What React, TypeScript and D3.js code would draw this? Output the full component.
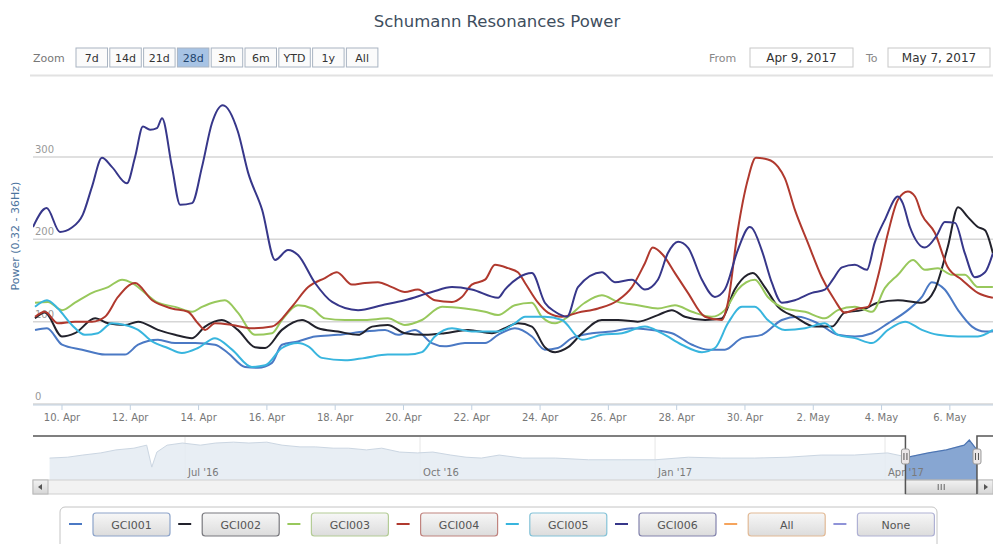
import React from "react";
import * as d3 from "d3";

const W = 993;
const H = 544;

const seriesNames = ["GCI001", "GCI002", "GCI003", "GCI004", "GCI005", "GCI006"];
const seriesColors = ["#4b79c4", "#22222c", "#98c85c", "#b0392e", "#38b5de", "#37378a"];

// [days since 9 Apr 2017 00:00 UTC, power]
const gci001: [number, number][] = [
  [0.21, 90], [0.56, 92], [1.0, 72], [1.59, 66], [2.26, 60], [2.84, 60], [3.23, 72], [3.81, 78],
  [4.31, 74], [4.9, 74], [5.48, 72], [5.86, 62], [6.36, 45], [6.74, 44], [7.15, 50], [7.44, 72],
  [7.91, 76], [8.41, 82], [9.08, 84], [9.87, 88], [10.46, 90], [10.84, 84], [11.34, 90], [11.83, 74],
  [12.21, 70], [12.8, 74], [13.39, 74], [13.77, 84], [14.26, 92], [14.76, 82], [15.14, 66], [15.52, 68],
  [15.93, 80], [16.52, 86], [17.1, 88], [17.69, 92], [18.28, 90], [18.86, 86], [19.45, 72], [19.92, 66],
  [20.41, 66], [20.91, 80], [21.49, 84], [22.08, 102], [22.55, 106], [23.14, 98], [23.72, 84], [24.22, 82],
  [24.72, 86], [25.19, 98], [25.77, 114], [26.18, 130], [26.47, 148], [26.85, 139], [27.24, 114], [27.65, 94],
  [28.03, 88], [28.26, 88],
];
const gci002: [number, number][] = [
  [0.21, 104], [0.5, 111], [1.0, 82], [1.38, 86], [1.97, 104], [2.35, 98], [2.84, 96], [3.23, 100],
  [3.81, 90], [4.31, 84], [4.81, 80], [5.19, 94], [5.68, 102], [6.15, 90], [6.65, 69], [6.95, 68],
  [7.44, 90], [8.03, 102], [8.5, 92], [9.08, 88], [9.67, 84], [10.08, 94], [10.54, 96], [11.04, 86],
  [11.63, 84], [12.21, 86], [12.89, 90], [13.59, 86], [13.97, 92], [14.35, 98], [14.76, 94], [15.14, 69],
  [15.44, 63], [15.82, 69], [16.23, 86], [16.81, 102], [17.28, 102], [17.86, 100], [18.45, 108], [18.86, 114],
  [19.24, 106], [19.83, 102], [20.32, 104], [20.7, 139], [21.08, 157], [21.23, 159], [21.58, 142], [21.97, 118],
  [22.46, 106], [23.05, 94], [23.55, 94], [23.92, 111], [24.42, 114], [24.89, 123], [25.48, 126], [26.18, 123],
  [26.56, 139], [26.94, 191], [27.24, 239], [27.53, 227], [27.82, 215], [28.03, 211], [28.26, 183],
];
const gci003: [number, number][] = [
  [0.21, 123], [0.59, 124], [1.0, 114], [1.38, 123], [1.88, 135], [2.35, 142], [2.76, 151], [3.05, 147],
  [3.43, 135], [3.81, 123], [4.31, 118], [4.81, 112], [5.1, 118], [5.48, 124], [5.77, 126], [6.15, 111],
  [6.65, 84], [7.15, 86], [7.44, 102], [7.91, 120], [8.32, 116], [8.7, 104], [9.29, 102], [9.87, 102],
  [10.54, 104], [11.04, 96], [11.54, 102], [12.13, 118], [12.8, 116], [13.39, 112], [13.77, 108], [14.26, 120],
  [14.76, 123], [15.05, 106], [15.44, 98], [15.82, 106], [16.31, 123], [16.81, 132], [17.28, 124], [17.86, 120],
  [18.45, 116], [18.95, 120], [19.45, 112], [20.03, 106], [20.41, 114], [20.79, 139], [21.29, 151], [21.67, 130],
  [22.17, 116], [22.76, 112], [23.34, 104], [23.72, 114], [24.22, 118], [24.72, 112], [25.1, 141], [25.48, 157],
  [25.92, 175], [26.27, 163], [26.65, 165], [27.06, 157], [27.44, 157], [27.82, 142], [28.26, 142],
];
const gci004: [number, number][] = [
  [0.21, 106], [0.5, 112], [0.88, 98], [1.38, 100], [1.88, 100], [2.26, 106], [2.64, 130], [3.14, 147],
  [3.64, 126], [4.22, 116], [4.69, 112], [4.98, 98], [5.19, 90], [5.48, 98], [5.98, 96], [6.56, 92],
  [7.15, 94], [7.73, 118], [8.21, 142], [8.7, 153], [9.05, 160], [9.49, 145], [9.87, 147], [10.25, 148],
  [10.66, 142], [11.04, 136], [11.42, 139], [11.92, 126], [12.42, 124], [12.71, 130], [13.0, 145], [13.39, 151],
  [13.68, 169], [14.06, 165], [14.35, 160], [14.56, 147], [14.94, 123], [15.23, 111], [15.64, 106], [16.11, 111],
  [16.7, 116], [17.28, 126], [17.69, 142], [18.07, 171], [18.3, 190], [18.6, 181], [18.95, 159], [19.33, 135],
  [19.83, 106], [20.32, 102], [20.5, 123], [20.79, 211], [21.08, 272], [21.32, 299], [21.67, 297], [21.97, 288],
  [22.17, 274], [22.46, 236], [22.84, 196], [23.25, 154], [23.63, 126], [23.92, 111], [24.31, 116], [24.6, 118],
  [24.89, 154], [25.19, 208], [25.48, 248], [25.77, 258], [25.98, 252], [26.18, 230], [26.56, 208], [26.94, 166],
  [27.35, 151], [27.82, 135], [28.26, 129],
];
const gci005: [number, number][] = [
  [0.21, 118], [0.56, 126], [0.88, 116], [1.29, 96], [1.67, 84], [2.05, 86], [2.46, 98], [2.84, 96],
  [3.23, 90], [3.64, 76], [4.1, 68], [4.51, 62], [4.98, 68], [5.48, 80], [5.98, 66], [6.56, 45],
  [6.95, 47], [7.44, 68], [7.91, 74], [8.21, 70], [8.61, 56], [9.29, 53], [9.87, 56], [10.54, 60],
  [11.13, 60], [11.54, 63], [11.92, 82], [12.42, 92], [13.0, 88], [13.77, 88], [14.26, 98], [14.56, 106],
  [15.14, 106], [15.64, 102], [16.23, 78], [16.81, 84], [17.4, 86], [18.07, 94], [18.56, 86], [19.15, 72],
  [19.74, 63], [20.12, 68], [20.5, 98], [20.91, 118], [21.29, 118], [21.67, 102], [22.17, 90], [22.76, 92],
  [23.34, 98], [23.72, 84], [24.22, 80], [24.72, 74], [25.19, 90], [25.69, 100], [26.18, 90], [26.65, 84],
  [27.24, 82], [27.82, 82], [28.26, 90],
];
const gci006: [number, number][] = [
  [0.15, 215], [0.55, 238], [0.94, 209], [1.28, 214], [1.61, 230], [1.88, 264], [2.17, 299], [2.46, 288],
  [2.9, 268], [3.14, 300], [3.37, 337], [3.58, 333], [3.78, 335], [3.93, 347], [4.22, 288], [4.46, 242],
  [4.81, 244], [5.1, 288], [5.39, 341], [5.71, 363], [6.15, 331], [6.45, 281], [6.86, 236], [7.24, 175],
  [7.62, 187], [7.91, 181], [8.41, 147], [8.91, 124], [9.67, 114], [10.37, 120], [11.04, 126], [11.83, 136],
  [12.42, 142], [13.0, 139], [13.77, 129], [13.97, 139], [14.35, 153], [14.76, 159], [15.14, 123], [15.44, 112],
  [15.79, 106], [16.11, 142], [16.81, 160], [17.19, 148], [17.69, 151], [18.07, 139], [18.45, 151], [18.74, 183],
  [19.04, 197], [19.33, 190], [19.74, 151], [20.12, 130], [20.41, 139], [20.79, 187], [21.14, 215], [21.2, 214],
  [21.49, 187], [21.79, 147], [22.08, 123], [22.46, 126], [22.96, 135], [23.34, 139], [23.57, 151], [23.84, 166],
  [24.22, 169], [24.57, 163], [24.8, 196], [25.1, 224], [25.48, 252], [25.62, 244], [25.83, 215], [26.27, 190],
  [26.62, 205], [26.85, 221], [27.15, 220], [27.44, 183], [27.73, 154], [28.03, 160], [28.26, 183],
];
const seriesData = [gci001, gci002, gci003, gci004, gci005, gci006];

const yTicks = [0, 100, 200, 300];
const xTickDates = [
  "2017-04-10", "2017-04-12", "2017-04-14", "2017-04-16", "2017-04-18", "2017-04-20", "2017-04-22",
  "2017-04-24", "2017-04-26", "2017-04-28", "2017-04-30", "2017-05-02", "2017-05-04", "2017-05-06",
];
const navTickDates = ["2016-07-01", "2016-10-01", "2017-01-01", "2017-04-01"];
const navData: [string, number][] = [
  ["2016-05-09", 51], ["2016-05-16", 53], ["2016-05-22", 58], ["2016-05-29", 63], ["2016-06-04", 70],
  ["2016-06-11", 74], ["2016-06-16", 81], ["2016-06-18", 30], ["2016-06-20", 65], ["2016-06-24", 81],
  ["2016-06-30", 86], ["2016-07-07", 81], ["2016-07-13", 86], ["2016-07-20", 88], ["2016-07-26", 86],
  ["2016-08-02", 88], ["2016-08-08", 81], ["2016-08-15", 77], ["2016-08-21", 77], ["2016-08-28", 74],
  ["2016-09-03", 74], ["2016-09-10", 70], ["2016-09-16", 74], ["2016-09-23", 65], ["2016-09-30", 63],
  ["2016-10-06", 65], ["2016-10-13", 58], ["2016-10-19", 53], ["2016-10-25", 51], ["2016-11-01", 58],
  ["2016-11-10", 51], ["2016-11-23", 51], ["2016-12-06", 47], ["2016-12-19", 47], ["2017-01-01", 47],
  ["2017-01-14", 53], ["2017-01-27", 51], ["2017-02-09", 51], ["2017-02-22", 53], ["2017-03-07", 58],
  ["2017-03-20", 58], ["2017-04-02", 63], ["2017-04-10", 53], ["2017-04-18", 63], ["2017-04-25", 70],
  ["2017-05-02", 81], ["2017-05-04", 93], ["2017-05-07", 70],
];

const zoomButtons = ["7d", "14d", "21d", "28d", "3m", "6m", "YTD", "1y", "All"];
const selectedZoom = "28d";
const rangeFrom = "Apr 9, 2017";
const rangeTo = "May 7, 2017";
const rangeFromDate = "2017-04-09";
const rangeToDate = "2017-05-07";
const legendExtraNames = ["All", "None"];
const legendExtraColors = ["#f5a45d", "#8f93d8"];

const FONT = "'DejaVu Sans', Verdana, sans-serif";
const day0 = Date.UTC(2017, 3, 9);
const parse = (s: string) => new Date(s + "T00:00:00Z");

export default function App() {
  const plotL = 33, plotR = 993, plotT = 80, plotB = 405;
  const x = d3.scaleUtc().domain([parse(rangeFromDate), parse(rangeToDate)]).range([27.85, 984]);
  const y = d3.scaleLinear().domain([0, 300]).range([404, 157]);
  const line = d3
    .line<[number, number]>()
    .x((d) => x(new Date(day0 + d[0] * 864e5)))
    .y((d) => y(d[1]))
    .curve(d3.curveMonotoneX);

  const navT = 437, navB = 480;
  const navX = d3.scaleUtc().domain([parse("2016-07-01"), parse("2017-04-01")]).range([185, 885]);
  const navY = d3.scaleLinear().domain([0, 100]).range([navB, navT]);
  const navArea = d3
    .area<[string, number]>()
    .x((d) => navX(parse(d[0])))
    .y0(navB)
    .y1((d) => navY(d[1]));
  const navLine = d3
    .line<[string, number]>()
    .x((d) => navX(parse(d[0])))
    .y((d) => navY(d[1]));
  const selL = navX(parse(rangeFromDate));
  const selR = navX(parse(rangeToDate));
  const fmtX = d3.utcFormat("%-d. %b");
  const fmtNav = d3.utcFormat("%b '%y");

  const legendNames = [...seriesNames, ...legendExtraNames];
  const legendColors = [...seriesColors, ...legendExtraColors];

  const scrollT = 480, scrollB = 494;

  return (
    <div style={{ position: "absolute", left: 0, top: 0 }}>
      <svg width={W} height={H} style={{ display: "block", fontFamily: FONT }}>
        <defs>
          <clipPath id="plotClip">
            <rect x={plotL} y={plotT} width={plotR - plotL} height={plotB - plotT} />
          </clipPath>
          <clipPath id="selClip">
            <rect x={selL} y={navT - 2} width={selR - selL} height={navB - navT + 2} />
          </clipPath>
          <linearGradient id="btnGrad" x1="0" y1="0" x2="0" y2="1">
            <stop offset="0" stopColor="#f7f7f7" />
            <stop offset="1" stopColor="#dcdcdc" />
          </linearGradient>
          <linearGradient id="thumbGrad" x1="0" y1="0" x2="0" y2="1">
            <stop offset="0" stopColor="#f2f2f2" />
            <stop offset="1" stopColor="#d6d6d6" />
          </linearGradient>
        </defs>
        <rect x={0} y={0} width={W} height={H} fill="#ffffff" />

        {/* Title */}
        <text x={497} y={27} textAnchor="middle" fontSize={16.5} fill="#3e4e5e">
          Schumann Resonances Power
        </text>

        {/* Range selector */}
        <text x={33} y={62} fontSize={11} fill="#777">Zoom</text>
        {zoomButtons.map((b, i) => {
          const bx = 76 + i * 33.8;
          const sel = b === selectedZoom;
          return (
            <g key={b}>
              <rect x={bx} y={48} width={31.5} height={19} fill={sel ? "#a7c3e4" : "#fbfbfb"} stroke="#a9b4c2" strokeWidth={1} />
              <text x={bx + 15.75} y={62} textAnchor="middle" fontSize={11} fill={sel ? "#23456e" : "#333"}>
                {b}
              </text>
            </g>
          );
        })}
        <text x={709} y={62} fontSize={11} fill="#888">From</text>
        <rect x={750} y={48} width={103} height={19} fill="#fff" stroke="#c8c8c8" />
        <text x={801.5} y={62} textAnchor="middle" fontSize={12} fill="#333">{rangeFrom}</text>
        <text x={866} y={62} fontSize={11} fill="#888">To</text>
        <rect x={888} y={48} width={102} height={19} fill="#fff" stroke="#c8c8c8" />
        <text x={939} y={62} textAnchor="middle" fontSize={12} fill="#333">{rangeTo}</text>
        <line x1={30} x2={W} y1={75.5} y2={75.5} stroke="#e2e2e2" strokeWidth={2} />

        {/* Y gridlines & labels */}
        {yTicks.map((t) => (
          <g key={t}>
            <line x1={plotL} x2={plotR} y1={y(t)} y2={y(t)} stroke="#d6d6d6" strokeWidth={1.5} />
            <text x={35} y={y(t) - 4} fontSize={10} fill="#999">{t}</text>
          </g>
        ))}
        <text
          transform={`translate(19, 236) rotate(-90)`}
          textAnchor="middle"
          fontSize={11}
          fill="#4d759e"
        >
          Power (0.32 - 36Hz)
        </text>

        {/* X axis */}
        <line x1={plotL} x2={plotR} y1={plotB} y2={plotB} stroke="#c0d0e0" strokeWidth={1} />
        {xTickDates.map((s) => {
          const tx = x(parse(s));
          return (
            <g key={s}>
              <line x1={tx} x2={tx} y1={plotB} y2={plotB + 5} stroke="#c0d0e0" />
              <text x={tx} y={421} textAnchor="middle" fontSize={10} fill="#777">
                {fmtX(parse(s))}
              </text>
            </g>
          );
        })}

        {/* Series */}
        <g clipPath="url(#plotClip)">
          {seriesData.map((d, i) => (
            <path key={seriesNames[i]} d={line(d) || ""} fill="none" stroke={seriesColors[i]} strokeWidth={2} strokeLinejoin="round" />
          ))}
        </g>

        {/* Navigator */}
        {navTickDates.map((s) => {
          const gx = navX(parse(s));
          return <line key={s} x1={gx} x2={gx} y1={navT} y2={navB} stroke="#e6e6e6" />;
        })}
        <path d={navArea(navData) || ""} fill="#e4ebf2" opacity={0.85} />
        <path d={navLine(navData) || ""} fill="none" stroke="#cbd6e2" strokeWidth={1} />
        <g clipPath="url(#selClip)">
          <path d={navArea(navData) || ""} fill="#87a6d2" />
          <path d={navLine(navData) || ""} fill="none" stroke="#4e76b4" strokeWidth={1.2} />
        </g>
        {navTickDates.map((s) => {
          const gx = navX(parse(s));
          return (
            <text key={s} x={gx + 3} y={476} fontSize={10} fill="#7a7a7a">{fmtNav(parse(s))}</text>
          );
        })}

        {/* Scrollbar */}
        <rect x={plotL} y={scrollT} width={plotR - plotL} height={scrollB - scrollT} fill="#f2f2f2" stroke="#d0d0d0" />
        <rect x={plotL} y={scrollT} width={15} height={scrollB - scrollT} fill="url(#thumbGrad)" stroke="#b8b8b8" />
        <path d={`M${plotL + 9},${scrollT + 4} L${plotL + 5},${scrollT + 7} L${plotL + 9},${scrollT + 10} Z`} fill="#555" />
        <rect x={plotR - 15} y={scrollT} width={15} height={scrollB - scrollT} fill="url(#thumbGrad)" stroke="#b8b8b8" />
        <path d={`M${plotR - 9},${scrollT + 4} L${plotR - 5},${scrollT + 7} L${plotR - 9},${scrollT + 10} Z`} fill="#555" />
        <rect x={selL} y={scrollT} width={selR - selL} height={scrollB - scrollT} fill="url(#thumbGrad)" stroke="#a8a8a8" />
        {[-3, 0, 3].map((o) => (
          <line key={o} x1={(selL + selR) / 2 + o} x2={(selL + selR) / 2 + o} y1={scrollT + 4} y2={scrollB - 4} stroke="#666" />
        ))}

        {/* Navigator outline */}
        <path
          d={`M${plotL},${navT - 1} L${selL},${navT - 1} L${selL},${scrollB} M${selR},${scrollB} L${selR},${navT - 1} L${plotR},${navT - 1}`}
          fill="none"
          stroke="#555"
          strokeWidth={1.5}
        />
        {[selL, selR].map((hx, i) => (
          <g key={i}>
            <rect x={hx - 4} y={449} width={8} height={15} rx={2} fill="#ebe7e8" stroke="#999" />
            <line x1={hx - 1.5} x2={hx - 1.5} y1={453} y2={460} stroke="#555" />
            <line x1={hx + 1.5} x2={hx + 1.5} y1={453} y2={460} stroke="#555" />
          </g>
        ))}

        {/* Legend */}
        <rect x={60} y={507} width={877} height={42} rx={5} fill="#fff" stroke="#c4c4c4" />
        {legendNames.map((n, i) => {
          const bx = 93 + i * 109.2;
          const c = legendColors[i];
          const stroke = d3.interpolateRgb(c, "#cfcfcf")(0.5);
          return (
            <g key={n}>
              <line x1={bx - 24} x2={bx - 11} y1={524} y2={524} stroke={c} strokeWidth={2} />
              <rect x={bx} y={513} width={77} height={23} rx={3} fill="url(#btnGrad)" stroke={stroke} strokeWidth={1.2} />
              <text x={bx + 38.5} y={529} textAnchor="middle" fontSize={11} fill="#555">{n}</text>
            </g>
          );
        })}
      </svg>
    </div>
  );
}
